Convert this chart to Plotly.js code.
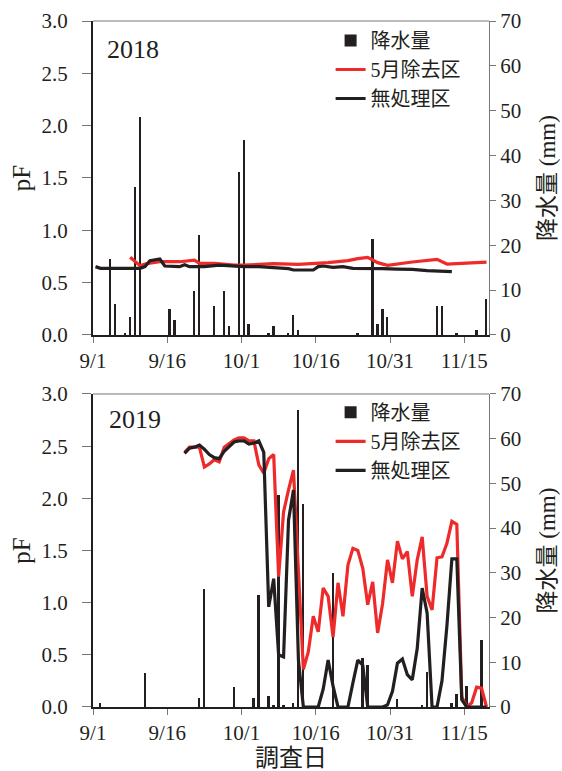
<!DOCTYPE html>
<html>
<head>
<meta charset="utf-8">
<script src="https://cdn.plot.ly/plotly-3.0.1.min.js"></script>
<style>html,body{margin:0;padding:0;background:#fff;}#chart{width:562px;height:771px;}</style>
</head>
<body>
<div id="chart"></div>
<script>
// ---------- DATA ----------
// 2018 precipitation (mm)
const rain2018Dates = ['09-04','09-05','09-07','09-08','09-09','09-10','09-16','09-17','09-21','09-22','09-25','09-27','09-28','09-30','10-01','10-02','10-06','10-07','10-10','10-11','10-12','10-24','10-27','10-28','10-29','10-30','11-09','11-10','11-13','11-17','11-19'];
const rain2018 = [16.9,6.8,0.4,3.9,32.9,48.5,5.9,3.4,9.9,22.4,6.5,9.9,1.9,36.4,43.4,2.4,0.4,1.9,0.4,4.4,1.1,0.4,21.4,2.4,5.9,3.9,6.5,6.5,0.4,1.1,8.0];
// 2018 pF, 5月除去区
const may2018Dates = ['09-08','09-10','09-11','09-14','09-18','09-21','09-22','09-25','09-29','10-01','10-07','10-12','10-18','10-22','10-24','10-26','10-28','10-30','11-04','11-09','11-11','11-15','11-19'];
const may2018 = [0.742,0.662,0.678,0.700,0.700,0.716,0.684,0.684,0.668,0.668,0.681,0.675,0.691,0.710,0.729,0.742,0.691,0.665,0.697,0.722,0.678,0.684,0.697];
// 2018 pF, 無処理区
const ctl2018Dates = ['09-01','09-02','09-05','09-07','09-10','09-11','09-12','09-14','09-15','09-18','09-19','09-20','09-23','09-26','09-29','10-01','10-04','10-06','10-08','10-10','10-11','10-15','10-16','10-17','10-19','10-21','10-23','10-26','10-27','10-29','11-01','11-04','11-07','11-10','11-12'];
const ctl2018 = [0.653,0.637,0.637,0.640,0.637,0.653,0.710,0.726,0.659,0.653,0.672,0.653,0.653,0.668,0.659,0.653,0.653,0.646,0.640,0.634,0.621,0.621,0.653,0.659,0.646,0.653,0.637,0.637,0.640,0.634,0.630,0.627,0.615,0.611,0.605];

// 2019 precipitation (mm)
const rain2019Dates = ['09-02','09-11','09-22','09-23','09-29','10-03','10-04','10-06','10-07','10-08','10-09','10-11','10-12','10-13','10-19','10-25','10-26','11-01','11-06','11-07','11-12','11-13','11-15','11-18'];
const rain2019 = [1.0,7.5,2.1,26.5,4.5,2.1,25.0,2.4,0.5,47.5,0.5,1.0,66.5,45.5,29.9,10.9,9.4,1.9,0.5,7.8,1.0,2.9,4.8,15.0];
// 2019 pF, daily from 9/19
const pf2019Start = '2019-09-19';
const may2019 = [2.44,2.49,2.49,2.49,2.30,2.33,2.37,2.35,2.49,2.53,2.56,2.58,2.58,2.55,2.55,2.32,2.24,2.38,2.42,1.25,1.87,2.08,2.27,1.30,0.36,0.53,0.87,0.72,1.14,1.06,0.67,1.19,0.87,1.36,1.52,1.50,1.33,0.98,1.20,0.71,0.99,1.41,1.19,1.59,1.42,1.49,1.06,1.41,1.63,1.06,0.93,1.43,1.44,1.57,1.78,1.75,0.10,0.00,0.04,0.19,0.18,0.00];
const ctl2019 = [2.43,2.48,2.49,2.51,2.47,2.42,2.39,2.38,2.45,2.50,2.54,2.55,2.55,2.52,2.53,2.55,2.44,0.96,1.23,0.50,0.48,1.79,2.08,0.45,0.00,0.00,0.00,0.00,0.17,0.45,0.20,0.00,0.00,0.00,0.23,0.45,0.40,0.00,0.00,0.00,0.00,0.02,0.15,0.42,0.46,0.31,0.26,0.56,1.14,0.90,0.00,0.00,0.25,0.78,1.42,1.42,0.07,0.00,0.00,0.00,0.00,0.00];

const seriesNames = ['降水量','5月除去区','無処理区'];
const yearLabels = ['2018','2019'];
const pfTicks = [0,0.5,1.0,1.5,2.0,2.5,3.0];
const rainTicks = [0,10,20,30,40,50,60,70];

// ---------- HELPERS ----------
const DAY = 86400000;
function withYear(y, arr){ return arr.map(d => y + '-' + d); }
function daily(start, n){
  const out = []; const t0 = Date.parse(start + 'T00:00:00Z');
  for (let i = 0; i < n; i++){ out.push(new Date(t0 + i*DAY).toISOString().slice(0,10)); }
  return out;
}

const SERIF = '"Liberation Serif", "Noto Sans CJK JP", serif';
const INK = '#231f20';
const RED = '#ee2a2a';

function barTrace(x, y, yaxis, legend){
  return {type:'bar', x:x, y:y, yaxis:yaxis, xaxis: yaxis==='y' ? 'x' : 'x2',
    name:seriesNames[0], legend:legend, width:0.38*DAY,
    xperiod:DAY, xperiodalignment:'middle',
    marker:{color:INK, line:{width:0}}, hoverinfo:'x+y'};
}
function lineTrace(x, y, yaxis, legend, idx, color){
  return {type:'scatter', mode:'lines', x:x, y:y, yaxis:yaxis, xaxis: (yaxis==='y2') ? 'x' : 'x2',
    name:seriesNames[idx], legend:legend,
    xperiod:DAY, xperiodalignment:'middle',
    line:{color:color, width:3.2}};
}

const data = [
  barTrace(withYear(2018, rain2018Dates), rain2018, 'y', 'legend'),
  lineTrace(withYear(2018, may2018Dates), may2018, 'y2', 'legend', 1, RED),
  lineTrace(withYear(2018, ctl2018Dates), ctl2018, 'y2', 'legend', 2, INK),
  barTrace(withYear(2019, rain2019Dates), rain2019, 'y3', 'legend2'),
  lineTrace(daily(pf2019Start, may2019.length), may2019, 'y4', 'legend2', 1, RED),
  lineTrace(daily(pf2019Start, ctl2019.length), ctl2019, 'y4', 'legend2', 2, INK)
];

const tickFont = {family:SERIF, size:21, color:INK};
const titleFont = {family:SERIF, size:23, color:INK};

function xAxis(year, anchor, withTitle){
  const ax = {type:'date', anchor:anchor, domain:[0,1],
    range:[year+'-09-01', year+'-11-20'], tick0:year+'-09-01', dtick:15*DAY,
    tickformat:'%-m/%-d', ticks:'outside', ticklen:6, tickcolor:'#777', tickwidth:1,
    showline:true, linecolor:INK, linewidth:2, showgrid:false, zeroline:false,
    tickfont:tickFont};
  if (withTitle) ax.title = {text:'調査日', font:{family:SERIF, size:24, color:INK}, standoff:4};
  return ax;
}
function rainAxis(domain, anchor){
  return {domain:domain, anchor:anchor, side:'right', range:[0,70], tickvals:rainTicks,
    ticks:'outside', ticklen:6, tickcolor:'#777', showline:true, linecolor:'#777', linewidth:1,
    showgrid:false, zeroline:false, tickfont:tickFont,
    title:{text:'降水量 (mm)', font:titleFont, standoff:18}};
}
function pfAxis(over, anchor){
  return {overlaying:over, anchor:anchor, side:'left', range:[0,3], tickvals:pfTicks, tickformat:'.1f',
    ticks:'outside', ticklen:9, tickcolor:'#777', showline:true, linecolor:INK, linewidth:2,
    ticklabelstandoff:10,
    showgrid:false, zeroline:false, tickfont:tickFont,
    title:{text:'pF', font:{family:SERIF, size:25, color:INK}, standoff:4}};
}

const legendBase = {xanchor:'left', yanchor:'top', bgcolor:'rgba(0,0,0,0)', borderwidth:0,
  font:{family:SERIF, size:20, color:INK}, itemwidth:30, tracegroupgap:0, traceorder:'normal'};

const layout = {
  width:562, height:771,
  margin:{l:93, r:73, t:21, b:64},
  paper_bgcolor:'#fff', plot_bgcolor:'#fff',
  showlegend:true,
  bargap:0,
  xaxis: xAxis(2018, 'y', false),
  xaxis2: xAxis(2019, 'y3', true),
  yaxis: rainAxis([0.5423, 1], 'x'),
  yaxis2: pfAxis('y', 'x'),
  yaxis3: rainAxis([0, 0.4563], 'x2'),
  yaxis4: pfAxis('y3', 'x2'),
  legend: Object.assign({x:0.600, y:1.0}, legendBase),
  legend2: Object.assign({x:0.600, y:0.458}, legendBase),
  annotations:[
    {text:yearLabels[0], xref:'x domain', yref:'y domain', x:0.03, y:0.908, xanchor:'left', yanchor:'middle',
     showarrow:false, font:{family:SERIF, size:26, color:INK}},
    {text:yearLabels[1], xref:'x2 domain', yref:'y3 domain', x:0.035, y:0.917, xanchor:'left', yanchor:'middle',
     showarrow:false, font:{family:SERIF, size:26, color:INK}}
  ],
  shapes:[
    {type:'line', xref:'x domain', yref:'y domain', x0:0, x1:1, y0:1, y1:1, line:{color:'#777', width:1}},
    {type:'line', xref:'x2 domain', yref:'y3 domain', x0:0, x1:1, y0:1, y1:1, line:{color:'#777', width:1}}
  ]
};

Plotly.newPlot('chart', data, layout, {displayModeBar:false, responsive:false});
</script>
</body>
</html>
